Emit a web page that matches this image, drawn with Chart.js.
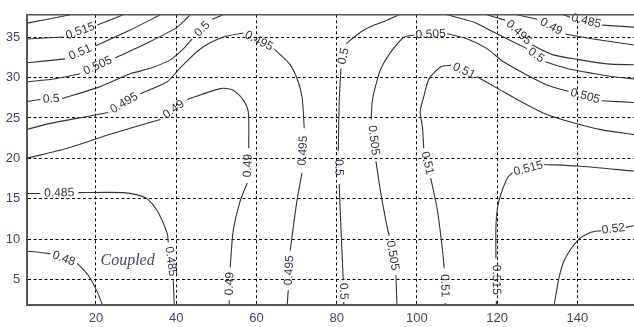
<!DOCTYPE html>
<html>
<head>
<meta charset="utf-8">
<script src="https://cdn.jsdelivr.net/npm/chart.js@4.4.1/dist/chart.umd.min.js"></script>
<style>
  html, body { margin: 0; padding: 0; background: #fff; }
  #wrap { width: 634px; height: 327px; overflow: hidden; }
</style>
</head>
<body>
<div id="wrap"><canvas id="plot" width="634" height="327"></canvas></div>
<script>
// axis ticks
const xTicks = [20, 40, 60, 80, 100, 120, 140];
const yTicks = [5, 10, 15, 20, 25, 30, 35];

// contour lines, [x, y] points; null = gap where the level label sits
const c0480 = [[2.9, 8.54], [6.13, 8.38], [8.62, 8.22], null, [15.35, 7.03], [18.09, 5.56], [20.33, 3.51], [21.58, 1.95]];

const c0485a = [[2.9, 15.66], [6.13, 15.66], null, [15.6, 15.78], [26.81, 15.78], [30.3, 15.5], [32.79, 15.0],
  [35.28, 13.53], [37.78, 10.71], [38.03, 9.61], null, [39.27, 4.94], [39.52, 1.95]];
const c0485b = [[136.53, 37.75], [138.2, 37.46], null, [146.17, 36.48], [154.1, 36.23]];

const c0490a = [[2.9, 20.04], [12.86, 21.26], [23.57, 22.98], [36.03, 24.82], null, [42.76, 27.28], [50.98, 28.63],
  [53.97, 28.5], [56.47, 27.4], [57.96, 25.8], [58.09, 21.26], null, [57.71, 16.97], [55.97, 14.76],
  [54.22, 11.08], [53.47, 6.54], null, [53.22, 2.49], [53.22, 1.95]];
const c0490b = [[124.92, 37.75], [129.98, 37.21], null, [136.95, 35.37], [143.93, 34.76], [154.1, 34.02]];

const c0495a = [[2.9, 23.6], [8.62, 24.33], [17.84, 25.19], [23.07, 25.68], null, [31.05, 28.01], [37.78, 29.48],
  [41.02, 31.2], [46.0, 33.53], [51.73, 35.0], [56.72, 35.5], null, [64.44, 33.53], [68.43, 31.57],
  [70.42, 29.48], [71.42, 27.4], [71.92, 23.72], null, [71.34, 18.2], [70.1, 14.76], [68.85, 10.26],
  [68.43, 8.63], null, [67.93, 3.72], [67.68, 1.95]];
const c0495b = [[117.44, 37.75], [122.0, 37.09], null, [128.73, 34.02], [133.97, 32.8], [140.69, 32.18],
  [147.42, 31.69], [154.1, 31.57]];

const c0500a = [[2.9, 27.03], [6.13, 27.28], null, [11.61, 27.4], [20.33, 28.75], [28.56, 30.47], [33.54, 31.14],
  [38.52, 32.18], [41.51, 33.41], [44.0, 34.76], null, [48.99, 37.21], [51.73, 37.75]];
const c0500b = [[95.59, 37.75], [92.1, 36.97], [89.36, 36.48], [86.37, 35.74], [84.37, 35.0], [82.38, 34.18], null,
  [81.06, 31.08], [80.64, 27.03], [80.39, 20.9], null, [80.64, 16.85], [81.06, 11.48], [81.63, 4.94], null,
  [81.76, 2.25], [81.76, 1.95]];
const c0500c = [[107.48, 37.75], [114.1, 36.85], [119.09, 35.62], [124.07, 34.39], [127.41, 33.57], null,
  [131.97, 31.94], [137.38, 31.12], [144.0, 30.5], [148.99, 30.1], [154.1, 29.82]];

const c0505a = [[2.9, 29.48], [9.87, 29.85], [16.1, 30.47], null, [24.82, 32.43], [32.79, 34.27], [40.27, 36.23], [43.5, 37.75]];
const c0505b = [[95.02, 1.95], [94.77, 5.56], null, [93.1, 10.47], [92.6, 11.48], [91.03, 15.62], [89.78, 19.67], null,
  [88.61, 24.82], [88.86, 27.03], [89.78, 29.12], [91.03, 31.12], [93.52, 33.17], [96.84, 35.0], [99.33, 35.25], null,
  [107.55, 35.41], [112.46, 34.8], [117.44, 33.57], [121.58, 31.94], [127.41, 30.31], [132.4, 29.08], [137.78, 28.26], null,
  [146.1, 27.12], [154.1, 26.91]];

const c0510a = [[2.9, 31.82], [12.36, 32.3], null, [19.84, 33.9], [28.56, 35.87], [36.03, 37.75]];
const c0510b = [[107.05, 1.95], [107.05, 2.12], null, [106.8, 6.42], [106.38, 8.63], [105.13, 13.53], [103.44, 17.58], null,
  [101.7, 21.26], [101.4, 23.75], [100.82, 25.8], [101.82, 27.85], [103.07, 29.89], [105.98, 31.33], [108.47, 31.53], null,
  [114.95, 30.1], [120.09, 28.66], [125.92, 27.03], [132.54, 25.4], [139.2, 24.37], [145.85, 23.56], [154.1, 22.94]];

const c0515a = [[2.9, 34.76], [11.86, 35.0], null, [20.33, 36.48], [26.81, 37.75]];
const c0515b = [[119.8, 1.95], [119.8, 2.37], null, [119.69, 7.64], [119.69, 11.48], [120.09, 13.94], [120.93, 15.58],
  [122.58, 17.62], [123.82, 18.23], null, [131.72, 19.26], [140.02, 19.06], [154.1, 18.44]];

const c0520a = [[2.9, 36.72], [13.61, 37.75]];
const c0520b = [[134.21, 1.95], [135.46, 5.35], [136.7, 7.4], [140.02, 9.85], [143.36, 10.87], [145.85, 11.08], null,
  [152.08, 11.48], [154.1, 11.69]];

const contours = [
  [0.48, c0480], [0.485, c0485a], [0.485, c0485b], [0.49, c0490a], [0.49, c0490b],
  [0.495, c0495a], [0.495, c0495b], [0.5, c0500a], [0.5, c0500b], [0.5, c0500c],
  [0.505, c0505a], [0.505, c0505b], [0.51, c0510a], [0.51, c0510b],
  [0.515, c0515a], [0.515, c0515b], [0.52, c0520a], [0.52, c0520b]
];

const noteText = 'Coupled';
const notePos = [27.9, 7.4];

const datasets = contours.map(function (c) {
  return {
    label: String(c[0]),
    level: c[0],
    data: c[1].map(function (p) { return p ? { x: p[0], y: p[1] } : { x: NaN, y: NaN }; }),
    showLine: true,
    spanGaps: false,
    borderColor: '#333',
    borderWidth: 1.1,
    pointRadius: 0,
    tension: 0.25
  };
});

// level labels in the gaps, top frame line, text note
const contourLabels = {
  id: 'contourLabels',
  afterDatasetsDraw: function (chart) {
    const ctx = chart.ctx;
    const area = chart.chartArea;
    ctx.save();
    ctx.font = '12px "Liberation Sans", Arial, sans-serif';
    ctx.fillStyle = '#33334a';
    ctx.textAlign = 'center';
    ctx.textBaseline = 'middle';
    chart.data.datasets.forEach(function (ds, di) {
      const pts = chart.getDatasetMeta(di).data;
      ds.data.forEach(function (d, i) {
        if (!isNaN(d.x) || i === 0 || i === ds.data.length - 1) return;
        const a = pts[i - 1], b = pts[i + 1];
        let ang = Math.atan2(b.y - a.y, b.x - a.x);
        if (ang > Math.PI / 2) ang -= Math.PI;
        if (ang <= -Math.PI / 2) ang += Math.PI;
        ctx.save();
        ctx.translate((a.x + b.x) / 2, (a.y + b.y) / 2);
        ctx.rotate(ang);
        ctx.fillText(ds.label, 0, 0);
        ctx.restore();
      });
    });

    ctx.font = 'italic 16px "Liberation Serif", "Times New Roman", serif';
    ctx.fillStyle = '#46466e';
    ctx.fillText(noteText, chart.scales.x.getPixelForValue(notePos[0]), chart.scales.y.getPixelForValue(notePos[1]));

    ctx.strokeStyle = '#555';
    ctx.lineWidth = 1.5;
    ctx.beginPath();
    ctx.moveTo(area.left, area.top);
    ctx.lineTo(area.right, area.top);
    ctx.stroke();
    ctx.restore();
  }
};

const tickFont = { family: '"Liberation Sans", Arial, sans-serif', size: 13 };

new Chart(document.getElementById('plot'), {
  type: 'scatter',
  data: { datasets: datasets },
  options: {
    responsive: false,
    animation: false,
    layout: { padding: { left: 0, right: 0, top: 12.7, bottom: 0 } },
    plugins: { legend: { display: false }, tooltip: { enabled: false } },
    scales: {
      x: {
        type: 'linear',
        min: 2.9,
        max: 154.1,
        afterBuildTicks: function (s) { s.ticks = xTicks.map(function (v) { return { value: v }; }); },
        afterFit: function (s) { s.height = 22.5; },
        ticks: { color: '#44446a', font: tickFont, padding: 6, maxRotation: 0 },
        grid: { color: '#000', lineWidth: 1, drawTicks: false },
        border: { color: '#555', width: 2, dash: [3, 2.5] }
      },
      y: {
        type: 'linear',
        min: 1.95,
        max: 37.75,
        afterBuildTicks: function (s) { s.ticks = yTicks.map(function (v) { return { value: v }; }); },
        afterFit: function (s) { s.width = 27.3; },
        ticks: { color: '#44446a', font: tickFont, padding: 7 },
        grid: { color: '#000', lineWidth: 1, drawTicks: false },
        border: { color: '#555', width: 2, dash: [3, 2.5] }
      }
    }
  },
  plugins: [contourLabels]
});
</script>
</body>
</html>
